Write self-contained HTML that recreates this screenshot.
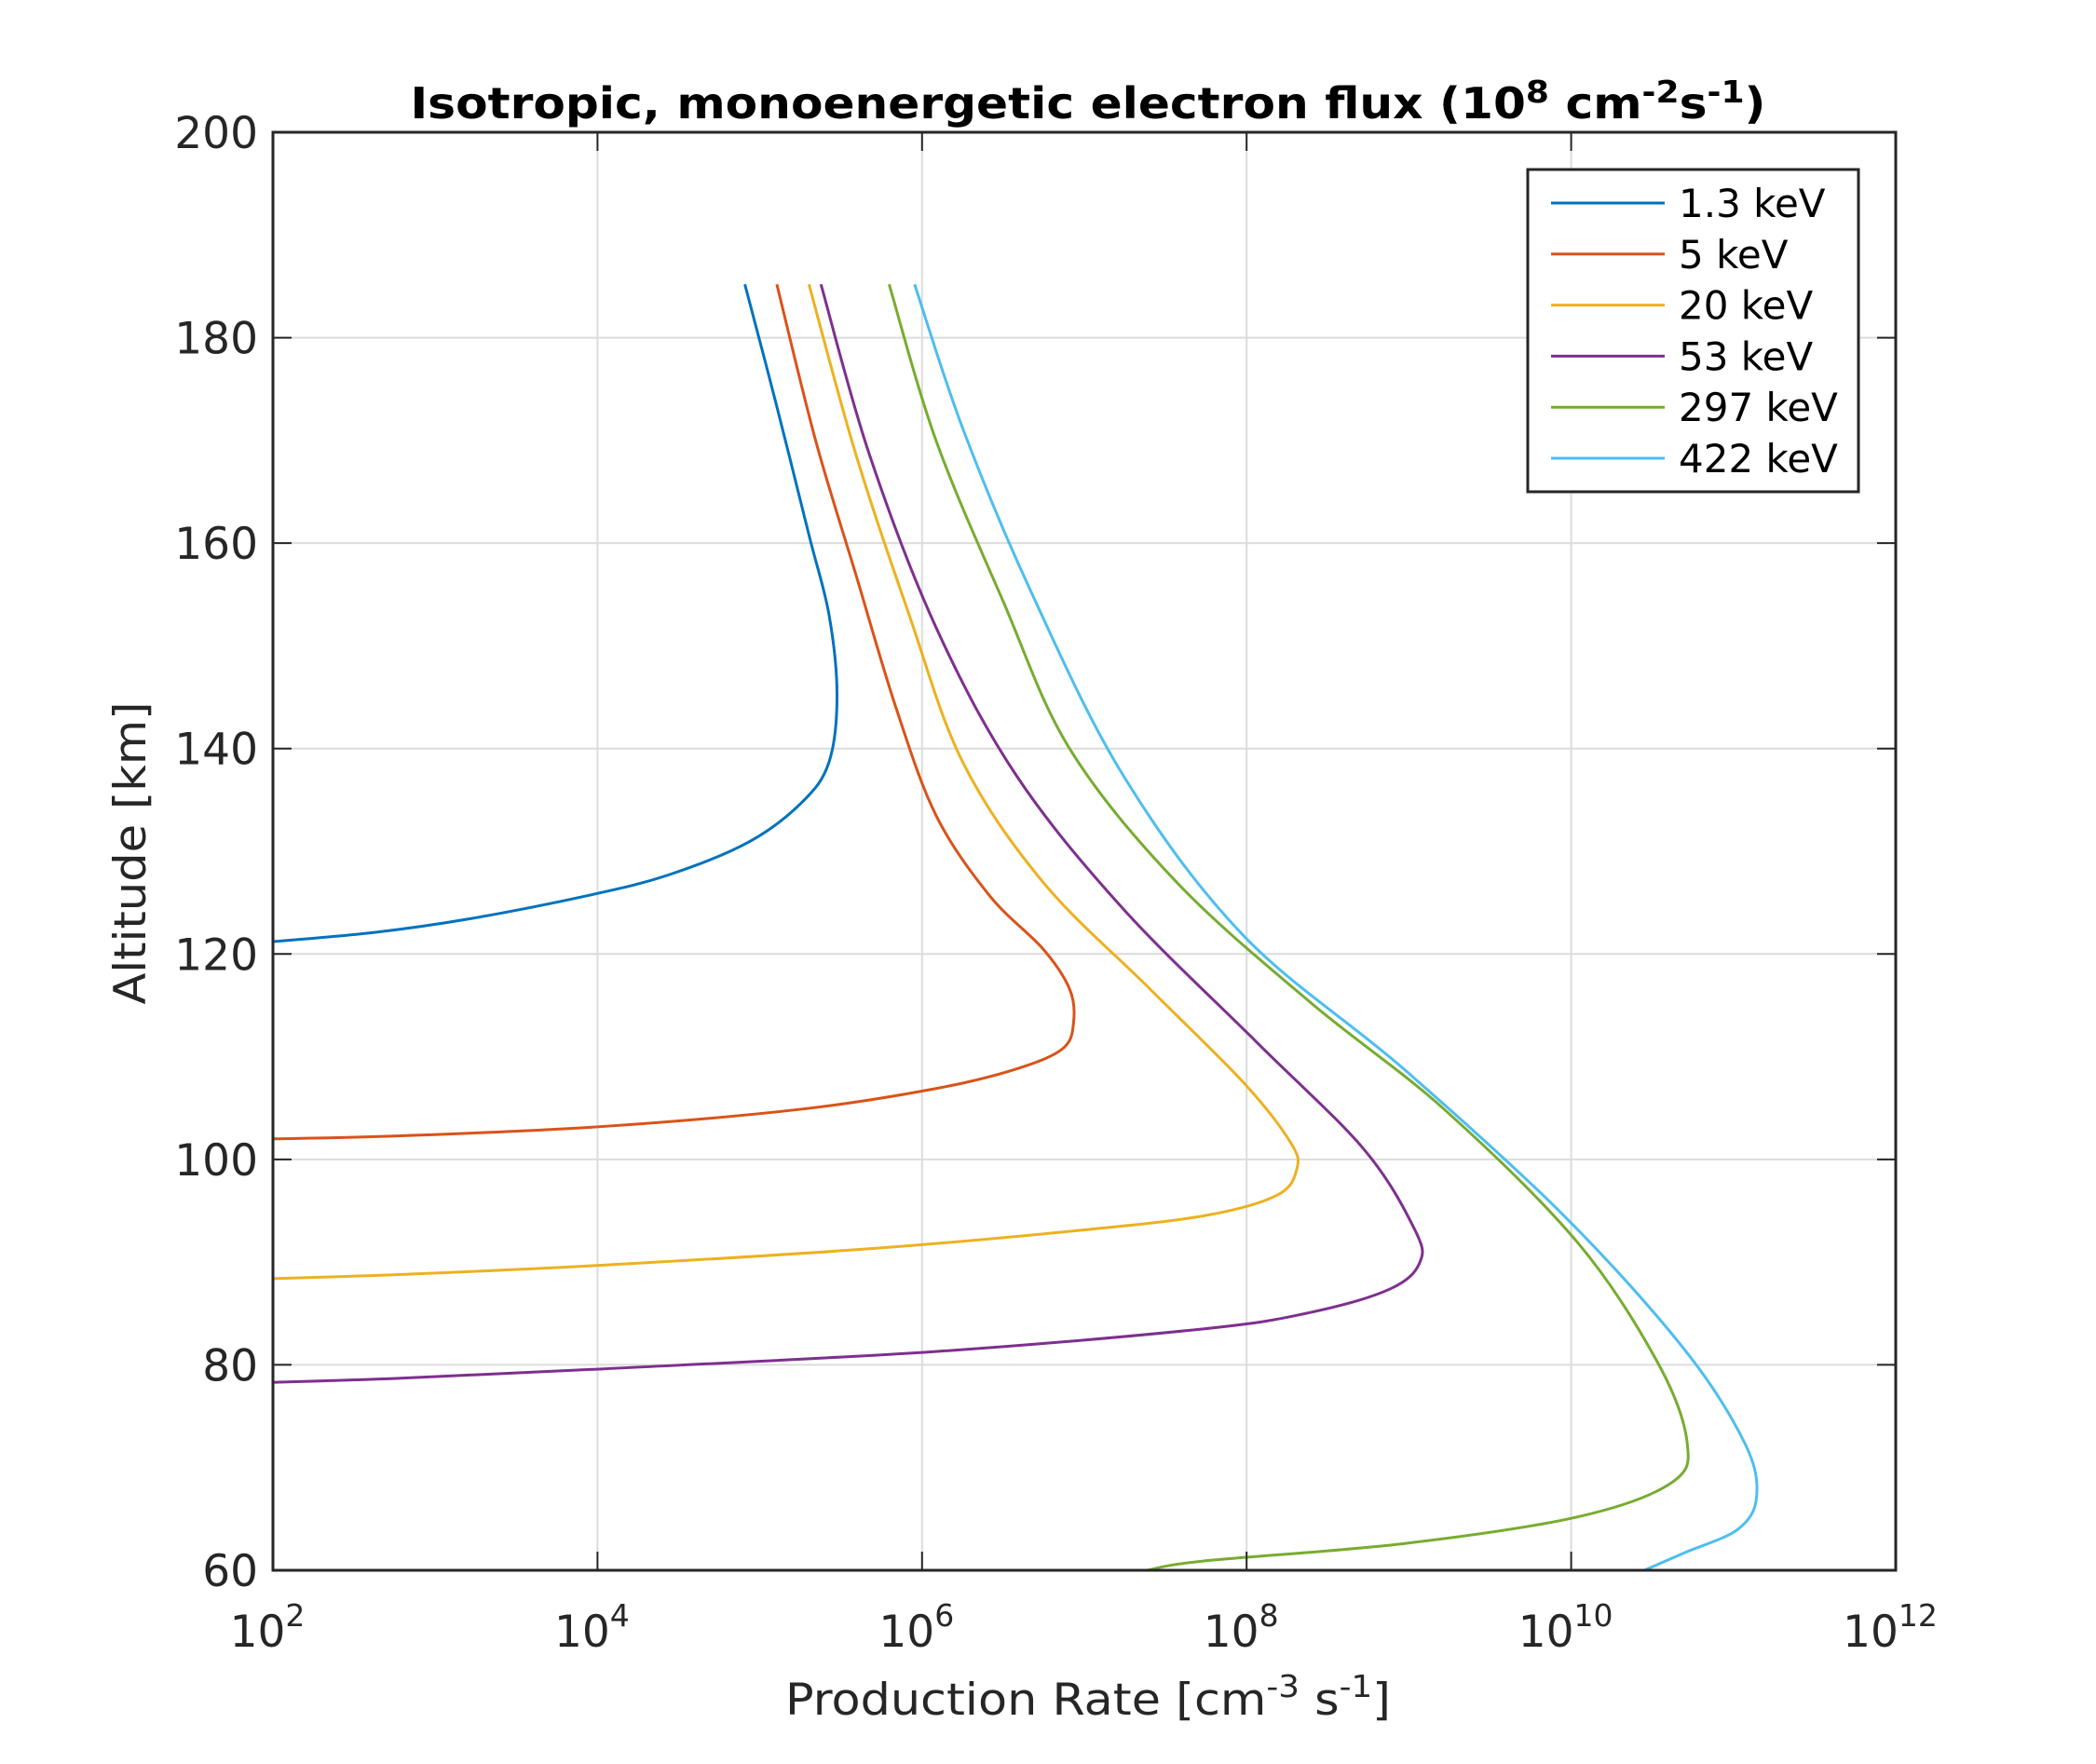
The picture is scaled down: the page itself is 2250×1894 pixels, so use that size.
<!DOCTYPE html>
<html><head><meta charset="utf-8"><style>
html,body{margin:0;padding:0;background:#fff;}
svg{display:block;font-family:"DejaVu Sans","Liberation Sans",sans-serif;}
</style></head><body>
<svg id="chart" width="2250" height="1894" viewBox="0 0 2250 1894" xmlns="http://www.w3.org/2000/svg">
<rect width="2250" height="1894" fill="#fff"/>
<g id="grid"></g>
<g id="series"></g>
<g id="axes"></g>
<text x="1168" y="127" text-anchor="middle" font-size="46" font-weight="bold" fill="#000" textLength="1455" lengthAdjust="spacingAndGlyphs">Isotropic, monoenergetic electron flux (10<tspan dy="-17" font-size="33">8</tspan><tspan dy="17"> cm</tspan><tspan dy="-17" font-size="33">-2</tspan><tspan dy="17">s</tspan><tspan dy="-17" font-size="33">-1</tspan><tspan dy="17">)</tspan></text>
<text x="1168" y="1841" text-anchor="middle" font-size="47" fill="#262626" textLength="650" lengthAdjust="spacingAndGlyphs">Production Rate [cm<tspan dy="-19" font-size="33">-3</tspan><tspan dy="19"> s</tspan><tspan dy="-19" font-size="33">-1</tspan><tspan dy="19">]</tspan></text>
<text transform="translate(156,916) rotate(-90)" text-anchor="middle" font-size="47" fill="#262626" textLength="325" lengthAdjust="spacingAndGlyphs">Altitude [km]</text>
<g id="legend"></g>
</svg>
<script>
const xTickExps = [2,4,6,8,10,12];
const yTicks = [60,80,100,120,140,160,180,200];
const seriesNames = ["1.3 keV","5 keV","20 keV","53 keV","297 keV","422 keV"];
const seriesColors = ["#0072BD","#D95319","#EDB120","#7E2F8E","#77AC30","#4DBEEE"];
const logRate13 = [4.908,5.097,5.303,5.427,5.476,5.427,5.262,4.932,4.438,3.944,3.203,2.626,2.0];
const alt13 = [185.2,173.8,160.8,153.0,145.2,138.7,134.8,130.9,127.7,125.7,123.4,122.1,121.2];
const logRate5 = [5.105,5.344,5.591,5.839,6.086,6.415,6.745,6.909,6.934,6.868,6.580,6.086,5.262,4.026,2.791,2.0];
const alt5 = [185.2,170.0,157.0,144.0,133.5,125.7,120.5,116.6,113.4,110.8,108.8,106.9,104.9,103.2,102.3,102.0];
const logRate20 = [5.303,5.591,5.921,6.250,6.745,7.404,7.980,8.269,8.310,8.186,7.733,6.909,5.674,4.026,2.791,2.0];
const alt20 = [185.2,168.7,153.0,138.7,127.0,116.6,107.5,101.7,99.1,96.5,94.5,93.0,91.3,89.7,88.8,88.4];
const logRate53 = [5.377,5.674,6.086,6.580,7.239,8.063,8.722,9.035,9.068,8.886,8.392,7.733,6.086,4.026,2.791,2.0];
const alt53 = [185.2,168.7,151.8,137.4,124.4,111.4,101.0,93.2,90.0,87.4,85.1,83.5,81.3,79.6,78.7,78.3];
const logRate297 = [5.797,6.086,6.498,6.909,7.568,8.392,9.216,10.040,10.534,10.715,10.616,10.040,8.969,7.733,7.387];
const alt297 = [185.2,170.0,154.4,140.0,127.0,115.3,104.9,91.9,80.2,72.4,68.5,65.2,62.6,60.9,60.0];
const logRate422 = [5.954,6.250,6.662,7.239,7.980,8.969,9.957,10.698,11.069,11.143,11.028,10.698,10.451];
const alt422 = [185.2,171.2,155.6,137.4,121.8,108.8,94.5,81.5,72.4,67.2,64.0,61.7,60.0];

const L=293,R=2035,T=142,B=1686;
const sx=e=>L+(e-2)/10*(R-L);
const sy=a=>B-(a-60)/140*(B-T);
const NS="http://www.w3.org/2000/svg";
function mk(tag,attrs,parent){const el=document.createElementNS(NS,tag);for(const k in attrs)el.setAttribute(k,attrs[k]);parent.appendChild(el);return el;}
const grid=document.getElementById('grid'),axes=document.getElementById('axes'),ser=document.getElementById('series'),leg=document.getElementById('legend');
xTickExps.forEach(e=>{
  const x=sx(e);
  if(e>2&&e<12){const g=mk('line',{x1:x,x2:x,y1:T,y2:B,stroke:'#dcdcdc','stroke-width':2},grid);
  
  }
  mk('line',{x1:x,x2:x,y1:B,y2:B-20,stroke:'#262626','stroke-width':2},axes);
  mk('line',{x1:x,x2:x,y1:T,y2:T+20,stroke:'#262626','stroke-width':2},axes);
  const t=mk('text',{x:x-6,y:1768,'text-anchor':'middle','font-size':47,fill:'#262626'},axes);
  
  
  t.innerHTML='10<tspan dy="-22" font-size="33">'+e+'</tspan>';
});
yTicks.forEach(v=>{
  const y=sy(v);
  if(v>60&&v<200){const g=mk('line',{x1:L,x2:R,y1:y,y2:y,stroke:'#dcdcdc','stroke-width':2},grid);
  
  }
  mk('line',{x1:L,x2:L+20,y1:y,y2:y,stroke:'#262626','stroke-width':2},axes);
  mk('line',{x1:R,x2:R-20,y1:y,y2:y,stroke:'#262626','stroke-width':2},axes);
  const t=mk('text',{x:277,y:y+17,'text-anchor':'end','font-size':47,fill:'#262626'},axes);
  
  
  t.textContent=v;
});
const frame=mk('rect',{x:L,y:T,width:R-L,height:B-T,fill:'none',stroke:'#262626','stroke-width':3},axes);


function path(xs,ys){
  const p=xs.map((e,i)=>[sx(e),sy(ys[i])]);
  let d='M'+p[0][0]+','+p[0][1];
  for(let i=0;i<p.length-1;i++){
    const p0=p[Math.max(0,i-1)],p1=p[i],p2=p[i+1],p3=p[Math.min(p.length-1,i+2)];
    const c1=[p1[0]+(p2[0]-p0[0])/6,p1[1]+(p2[1]-p0[1])/6];
    const c2=[p2[0]-(p3[0]-p1[0])/6,p2[1]-(p3[1]-p1[1])/6];
    d+=' C'+c1+' '+c2+' '+p2;
  }
  return d;
}
const allX=[logRate13,logRate5,logRate20,logRate53,logRate297,logRate422];
const allY=[alt13,alt5,alt20,alt53,alt297,alt422];
allX.forEach((xs,i)=>{
  const el=mk('path',{d:path(xs,allY[i]),fill:'none',stroke:seriesColors[i],'stroke-width':3},ser);
  
  
});
const box=mk('rect',{x:1640,y:182,width:355,height:346,fill:'#fff',stroke:'#262626','stroke-width':3},leg);


seriesNames.forEach((n,i)=>{
  const y=218+i*54.8;
  const g=mk('g',{},leg);
  
  
  mk('line',{x1:1665,x2:1787,y1:y,y2:y,stroke:seriesColors[i],'stroke-width':3},g);
  const t=mk('text',{x:1802,y:y+15,'font-size':42,fill:'#000'},g);
  t.textContent=n;
});
</script>
</body></html>
